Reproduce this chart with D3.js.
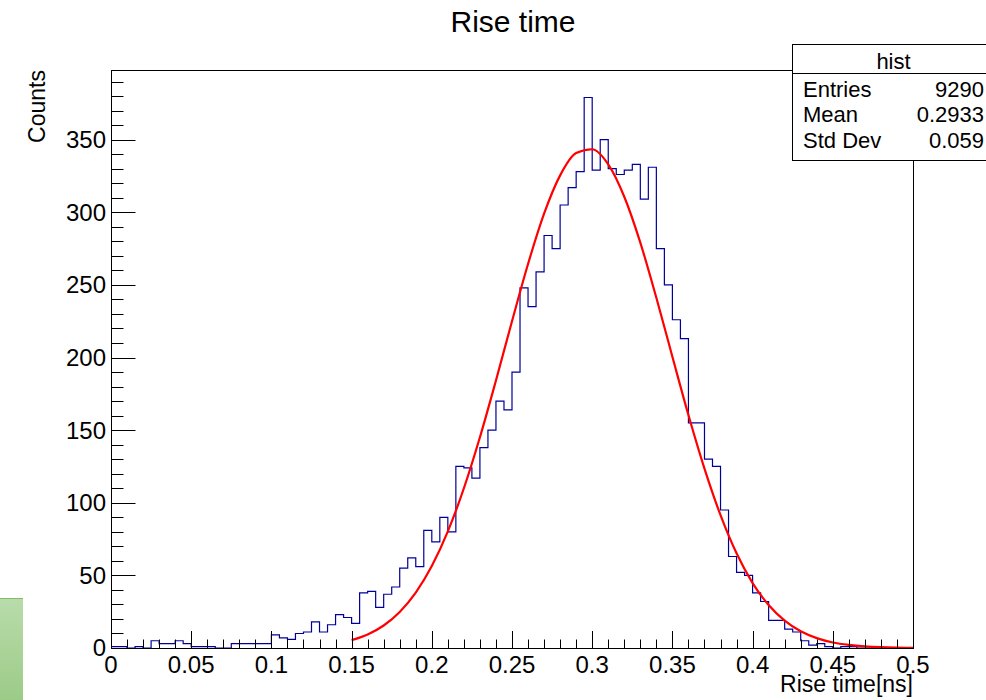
<!DOCTYPE html>
<html>
<head>
<meta charset="utf-8">
<script src="https://cdnjs.cloudflare.com/ajax/libs/d3/7.8.5/d3.min.js"></script>
<style>
  body { margin: 0; background: #fff; }
  svg { display: block; font-family: "Liberation Sans", Arial, Helvetica, sans-serif; }
</style>
</head>
<body>
<div id="chart"></div>
<script>
// hist: 100 bins, 0.005 ns wide, from 0 to 0.5 ns
var binWidth = 0.005;
var binCounts = [
    1, 1, 0, 1, 0, 5, 3, 3, 5, 3,
    1, 1, 1, 0, 0, 3, 3, 3, 3, 3,
    9, 7, 6, 10, 11, 18, 11, 16, 23, 21,
    17, 38, 39, 28, 37, 42, 55, 62, 56, 81,
    73, 90, 80, 125, 124, 117, 138, 150, 170, 164,
    190, 248, 235, 259, 284, 275, 305, 317, 328, 379,
    329, 350, 330, 326, 329, 333, 309, 331, 275, 250,
    226, 213, 155, 155, 130, 125, 95, 63, 52, 50,
    38, 32, 19, 19, 13, 11, 5, 2, 3, 1,
    0, 1, 1, 0, 0, 0, 0, 0, 0, 0
];

// fitted curve (red)
var fitX = [0.15, 0.16, 0.17, 0.18, 0.19, 0.20, 0.21, 0.22, 0.23, 0.24, 0.25, 0.26,
            0.27, 0.28, 0.29, 0.30, 0.31, 0.32, 0.33, 0.34, 0.35, 0.36, 0.37, 0.38,
            0.39, 0.40, 0.41, 0.42, 0.43, 0.44, 0.45, 0.46, 0.47, 0.48, 0.49, 0.50];
var fitY = [5.4, 9.3, 15.5, 24.8, 38.1, 56.4, 80.3, 110.0, 145.1, 184.2, 225.0, 264.4,
            299.0, 325.4, 340.8, 343.4, 333.0, 310.7, 279.1, 241.1, 200.5, 160.4, 123.5, 91.5,
            65.2, 44.7, 29.6, 18.8, 11.5, 6.8, 3.8, 2.1, 1.1, 0.55, 0.27, 0.13];

var xMajor = [0, 0.05, 0.1, 0.15, 0.2, 0.25, 0.3, 0.35, 0.4, 0.45, 0.5];
var xLabels = ['0', '0.05', '0.1', '0.15', '0.2', '0.25', '0.3', '0.35', '0.4', '0.45', '0.5'];
var yMajor = [0, 50, 100, 150, 200, 250, 300, 350];

var statNames = ['Entries', 'Mean', 'Std Dev'];
var statValues = ['9290', '0.2933', '0.059'];

var width = 986,
    height = 700,
    fLeft = 111, fRight = 913,
    fTop = 70, fBottom = 648,
    yMax = 397.95;

var svg = d3.select('#chart').append('svg')
    .attr('width', width)
    .attr('height', height);

var x = d3.scaleLinear().domain([0, 0.5]).range([fLeft, fRight]);
var y = d3.scaleLinear().domain([0, yMax]).range([fBottom, fTop]);

// green block bottom left
var grad = svg.append('defs').append('linearGradient')
    .attr('id', 'g1').attr('x1', 0).attr('y1', 0).attr('x2', 0).attr('y2', 1);
grad.append('stop').attr('offset', 0).attr('stop-color', '#b9dcaa');
grad.append('stop').attr('offset', 1).attr('stop-color', '#9ccb88');
svg.append('rect').attr('x', 0).attr('y', 598).attr('width', 23).attr('height', 102)
    .attr('fill', 'url(#g1)');
svg.append('line').attr('x1', 0).attr('x2', 23).attr('y1', 598.5).attr('y2', 598.5)
    .attr('stroke', '#80bd68').attr('stroke-width', 1);

// title
svg.append('text').attr('x', 513).attr('y', 32).attr('text-anchor', 'middle')
    .attr('font-size', 30).text('Rise time');

// histogram outline
var pts = binCounts.map(function(c, i) { return [i * binWidth, c]; });
pts.push([0.5, binCounts[binCounts.length - 1]]);

svg.append('path')
    .datum(pts)
    .attr('fill', 'none')
    .attr('stroke', '#000099')
    .attr('stroke-width', 1.2)
    .attr('d', d3.line()
        .x(function(d) { return x(d[0]); })
        .y(function(d) { return y(d[1]); })
        .curve(d3.curveStepAfter));

// fit
svg.append('path')
    .datum(d3.zip(fitX, fitY))
    .attr('fill', 'none')
    .attr('stroke', '#ff0000')
    .attr('stroke-width', 2.2)
    .attr('d', d3.line()
        .x(function(d) { return x(d[0]); })
        .y(function(d) { return y(d[1]); })
        .curve(d3.curveMonotoneX));

// frame
svg.append('rect')
    .attr('x', fLeft + 0.5).attr('y', fTop + 0.5)
    .attr('width', fRight - fLeft).attr('height', fBottom - fTop)
    .attr('fill', 'none').attr('stroke', '#000').attr('stroke-width', 1);

// x ticks (pointing up)
var xt = svg.append('g').attr('stroke', '#000').attr('stroke-width', 1);
xt.selectAll('line')
    .data(d3.range(0, 51).map(function(i) { return i / 100; }))
    .enter().append('line')
    .attr('x1', function(d) { return Math.round(x(d)) + 0.5; })
    .attr('x2', function(d) { return Math.round(x(d)) + 0.5; })
    .attr('y1', fBottom + 0.5)
    .attr('y2', function(d, i) { return fBottom + 0.5 - (i % 5 == 0 ? 17.5 : 9); });

svg.append('g').selectAll('text')
    .data(xMajor)
    .enter().append('text')
    .attr('x', function(d) { return x(d); })
    .attr('y', 673)
    .attr('text-anchor', 'middle')
    .attr('font-size', 24)
    .text(function(d, i) { return xLabels[i]; });

// y ticks (pointing right)
var yt = svg.append('g').attr('stroke', '#000').attr('stroke-width', 1);
yt.selectAll('line')
    .data(d3.range(0, 400, 10))
    .enter().append('line')
    .attr('y1', function(d) { return Math.round(y(d)) + 0.5; })
    .attr('y2', function(d) { return Math.round(y(d)) + 0.5; })
    .attr('x1', fLeft + 0.5)
    .attr('x2', function(d) { return fLeft + 0.5 + (d % 50 == 0 ? 24 : 12); });

svg.append('g').selectAll('text')
    .data(yMajor)
    .enter().append('text')
    .attr('x', 106)
    .attr('y', function(d) { return y(d); })
    .attr('dy', '0.35em')
    .attr('text-anchor', 'end')
    .attr('font-size', 24)
    .text(function(d) { return d; });

// axis titles
svg.append('text').attr('x', fRight).attr('y', 692).attr('text-anchor', 'end')
    .attr('font-size', 23).text('Rise time[ns]');
svg.append('text').attr('transform', 'translate(45,' + fTop + ') rotate(-90)')
    .attr('text-anchor', 'end').attr('font-size', 23).text('Counts');

// stats box
var stats = svg.append('g');
stats.append('rect').attr('x', 792.5).attr('y', 44.5).attr('width', 205).attr('height', 116)
    .attr('fill', '#fff').attr('stroke', '#000').attr('stroke-width', 1);
stats.append('line').attr('x1', 792.5).attr('x2', 997).attr('y1', 73.5).attr('y2', 73.5)
    .attr('stroke', '#000');
stats.append('text').attr('x', 893.5).attr('y', 69).attr('text-anchor', 'middle')
    .attr('font-size', 22).text('hist');
stats.selectAll('text.name')
    .data(statNames)
    .enter().append('text')
    .attr('class', 'name')
    .attr('x', 803)
    .attr('y', function(d, i) { return 96.5 + i * 25.5; })
    .attr('font-size', 22)
    .text(function(d) { return d; });
stats.selectAll('text.val')
    .data(statValues)
    .enter().append('text')
    .attr('class', 'val')
    .attr('x', 984)
    .attr('y', function(d, i) { return 96.5 + i * 25.5; })
    .attr('text-anchor', 'end')
    .attr('font-size', 22)
    .text(function(d) { return d; });
</script>
</body>
</html>
